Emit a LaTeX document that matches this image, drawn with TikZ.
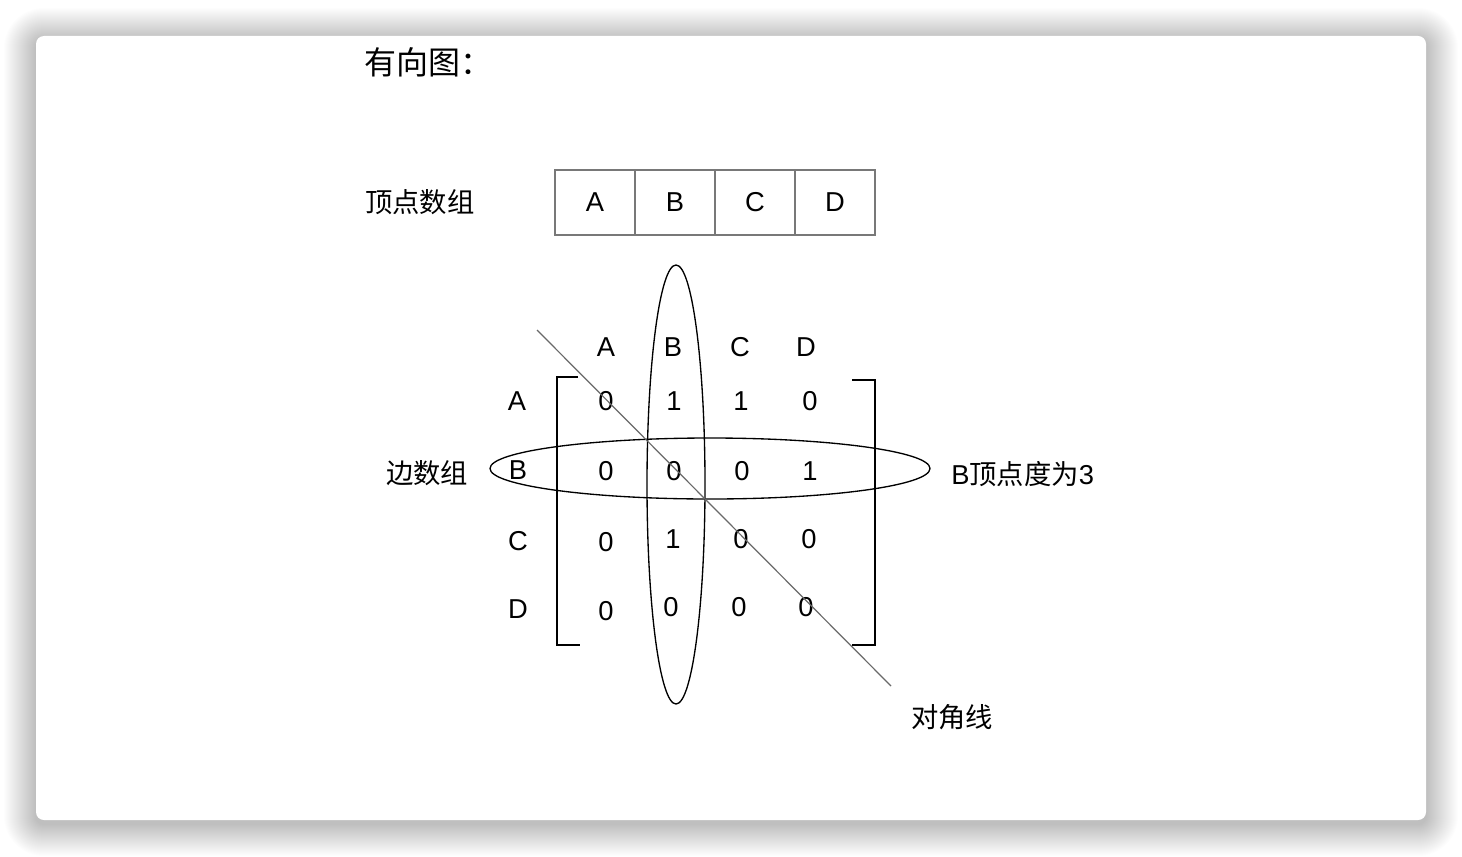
\documentclass[tikz,border=0pt]{standalone}
\usepackage{fontspec}
\setmainfont{Liberation Sans}
\newfontfamily\cjk{Noto Sans CJK SC}
\usepackage{xcolor}
\usepackage{tikz}
\usetikzlibrary{positioning,shapes.geometric}
\definecolor{boxgray}{RGB}{120,120,120}
\definecolor{diaggray}{RGB}{105,105,105}

\begin{document}
\begin{tikzpicture}[
    x=0.75pt, y=-0.75pt,
    lbl/.style={font=\fontsize{20.5}{24}\selectfont, inner sep=0pt},
    cjklbl/.style={font={\fontsize{20.5}{24}\cjk}, inner sep=0pt, anchor=west},
    cell/.style={draw=boxgray, line width=0.9pt, minimum width=60pt, minimum height=48.75pt, inner sep=0pt, outer sep=0pt, font=\fontsize{20.5}{24}\selectfont},
    ring/.style={draw, ellipse, line width=1pt, inner sep=0pt},
    bracket/.style={line width=1pt},
    diag/.style={draw=diaggray, line width=0.9pt}
]
\useasboundingbox (0,0) rectangle (1462,856);

% card with soft shadow
\foreach \i [evaluate=\i as \r using 6+0.75*\i] in {1,...,32}
  \fill[black, opacity=0.007, rounded corners=\r pt] (36-\i,40-\i) rectangle (1426+\i,824+\i);
\fill[white, rounded corners=6pt] (36,36) rectangle (1426,820);

\node[cjklbl, font={\fontsize{24}{28}\cjk}] (title) at (364,62) {有向图：};

% vertex array
\node[cjklbl] (vlabel) at (365,202) {顶点数组};
\node[cell] (va) at (595,202.5) {A};
\node[cell, right=0pt of va] (vb) {B};
\node[cell, right=0pt of vb] (vc) {C};
\node[cell, right=0pt of vc] (vd) {D};

% edge array
\node[cjklbl] (elabel) at (386,473) {边数组};

\node[lbl] (ca) at (606,347) {A};
\node[lbl] (cb) at (673,347) {B};
\node[lbl] (cc) at (740,347) {C};
\node[lbl] (cd) at (806,347) {D};

\node[lbl] (ra) at (517,401) {A};
\node[lbl] (rb) at (518,470) {B};
\node[lbl] (rc) at (518,541) {C};
\node[lbl] (rd) at (518,609) {D};

\node[lbl] (m11) at (606,401) {0};
\node[lbl] (m12) at (674,401) {1};
\node[lbl] (m13) at (741,401) {1};
\node[lbl] (m14) at (810,401) {0};

\node[lbl] (m21) at (606,471) {0};
\node[lbl] (m22) at (674,471) {0};
\node[lbl] (m23) at (742,471) {0};
\node[lbl] (m24) at (810,471) {1};

\node[lbl] (m31) at (606,542) {0};
\node[lbl] (m32) at (673,539) {1};
\node[lbl] (m33) at (741,539) {0};
\node[lbl] (m34) at (809,539) {0};

\node[lbl] (m41) at (606,611) {0};
\node[lbl] (m42) at (671,607) {0};
\node[lbl] (m43) at (739,607) {0};
\node[lbl] (m44) at (806,607) {0};

% brackets
\draw[bracket] (578,377) -| (557,645) -- (580,645);
\draw[bracket] (852,380) -| (875,645) -- (852,645);

% highlights
\node[ring, minimum width=43.5pt, minimum height=329.25pt] (colB) at (676,484.5) {};
\node[ring, minimum width=330pt, minimum height=45.75pt] (rowB) at (710,468.5) {};

\node[lbl, anchor=west] (deg) at (951,474) {B{\cjk 顶点度为}3};

% diagonal
\coordinate (dstart) at (537,330);
\coordinate (dend) at (891,686);
\draw[diag] (dstart) -- (dend);
\node[cjklbl] (dlabel) at (911,717) {对角线};

\end{tikzpicture}
\end{document}
